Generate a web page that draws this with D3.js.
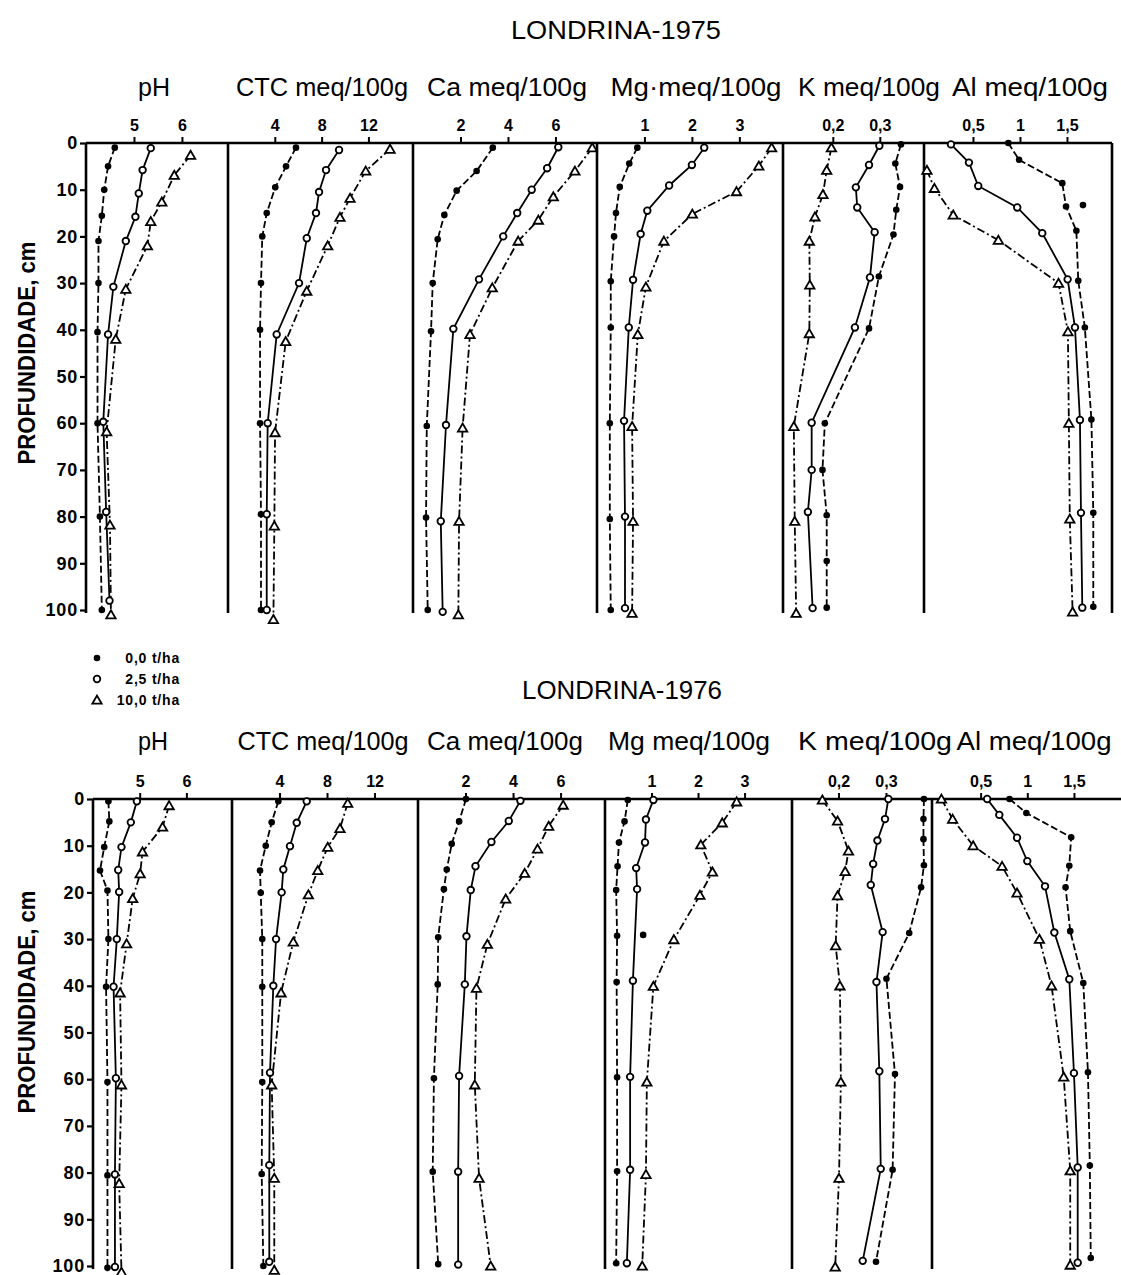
<!DOCTYPE html>
<html><head><meta charset="utf-8">
<script src="https://cdnjs.cloudflare.com/ajax/libs/d3/7.8.5/d3.min.js"></script>
<style>body{margin:0;background:#fff}svg{display:block}</style>
</head><body>
<svg id="c" width="1121" height="1275"></svg>
<script>
// ---------- DATA (depth cm, value) ----------
const depthTicks = [0,10,20,30,40,50,60,70,80,90,100];
const phTicks = [5,6];
const ctcTicks = [4,8,12];
const caTicks = [2,4,6];
const mgTicks = [1,2,3];
const kTicks = [0.2,0.3];
const alTicks = [0.5,1.0,1.5];
const headers75 = ["pH","CTC meq/100g","Ca meq/100g","Mg\u00B7meq/100g","K meq/100g","Al meq/100g"];
const headers76 = ["pH","CTC meq/100g","Ca meq/100g","Mg meq/100g","K meq/100g","Al meq/100g"];
const legendLabels = ["0,0 t/ha","2,5 t/ha","10,0 t/ha"];
const titles = ["LONDRINA-1975","LONDRINA-1976"];

// LONDRINA 1975
const pH75_0  = [[1,4.60],[5,4.46],[10,4.38],[15.6,4.33],[21,4.26],[30,4.26],[40.5,4.24],[60,4.24],[80,4.29],[100,4.33]];
const pH75_25 = [[1.1,5.35],[5.8,5.18],[10.8,5.10],[15.8,5.03],[21,4.83],[30.8,4.57],[41,4.46],[59.7,4.36],[79,4.42],[98,4.49]];
const pH75_10 = [[2.6,6.18],[6.9,5.84],[12.6,5.58],[16.8,5.35],[22,5.28],[31.3,4.83],[42,4.62],[61.8,4.43],[81.8,4.50],[101,4.52]];
const ctc75_0  = [[1,5.81],[5,4.96],[9.5,4.04],[15,3.31],[20,2.93],[30,2.82],[40,2.74],[60,2.74],[79.5,2.82],[100,2.82]];
const ctc75_25 = [[1.5,9.49],[5.8,8.38],[10.5,7.78],[15,7.52],[20.4,6.73],[30,6.07],[41,4.16],[60,3.39],[79.5,3.31],[100,3.31]];
const ctc75_10 = [[1.3,13.85],[6,11.77],[11.8,10.43],[15.9,9.57],[22,8.52],[31.7,6.73],[42.5,4.93],[62,4.02],[82,3.96],[102,3.88]];
const ca75_0  = [[1,3.36],[6,2.68],[10.2,1.84],[15.4,1.32],[20.6,1.04],[30,0.83],[40.3,0.76],[60.6,0.58],[80.2,0.55],[100,0.62]];
const ca75_25 = [[0.9,6.12],[5.4,5.65],[10,5.00],[15,4.39],[20,3.80],[29.2,2.78],[39.8,1.70],[60.4,1.39],[81,1.17],[100.4,1.25]];
const ca75_10 = [[1,7.55],[6,6.82],[11.5,5.91],[16.5,5.28],[21,4.43],[31,3.34],[41,2.40],[61,2.09],[81,1.94],[101,1.91]];
const mg75_0  = [[1,0.85],[4.4,0.68],[9.4,0.48],[15,0.40],[20,0.36],[29.6,0.29],[39.5,0.29],[60,0.27],[80.5,0.27],[100,0.29]];
const mg75_25 = [[1,2.26],[4.7,2.00],[9.1,1.52],[14.5,1.06],[19.5,0.92],[29.3,0.76],[39.5,0.67],[59.5,0.57],[80,0.59],[99.6,0.59]];
const mg75_10 = [[1,3.68],[4.9,3.41],[10.4,2.94],[15.2,2.01],[21,1.41],[30.8,1.03],[41,0.86],[60.7,0.74],[81,0.76],[100.7,0.74]];
const k75_0  = [[0.3,0.345],[4.4,0.333],[9.4,0.343],[14.3,0.335],[19.6,0.329],[28.6,0.298],[39.7,0.277],[60,0.183],[70,0.178],[79.7,0.187],[89.5,0.187],[99.5,0.187]];
const k75_25 = [[0.6,0.299],[4.7,0.277],[9.5,0.249],[13.8,0.252],[19.1,0.289],[28.8,0.279],[39.5,0.247],[59.9,0.155],[70,0.155],[79,0.147],[99.6,0.157]];
const k75_10 = [[1,0.197],[5.8,0.187],[11,0.179],[15.8,0.162],[21,0.150],[30.4,0.151],[40.8,0.150],[60.7,0.117],[81,0.119],[100.7,0.122]];
const al75_0  = [[0,0.876],[3.6,0.99],[8.6,1.45],[13.6,1.49],[18.8,1.60],[29.5,1.62],[39.5,1.69],[59.2,1.76],[79.2,1.78],[99.3,1.78]];
const al75_25 = [[0.3,0.266],[4.2,0.457],[9.2,0.556],[13.8,0.971],[19.3,1.237],[29.2,1.507],[39.5,1.585],[59.3,1.638],[79.2,1.649],[99.5,1.663]];
const al75_10 = [[5.8,0.01],[9.7,0.09],[15.4,0.29],[20.8,0.77],[30,1.41],[40.4,1.51],[60,1.52],[80.5,1.53],[100.4,1.56]];
const al75_stray = [[13.3,1.67]];

// LONDRINA 1976
const pH76_0  = [[0.5,4.33],[4.8,4.35],[10.3,4.24],[15.3,4.15],[19.6,4.31],[30,4.33],[40.2,4.28],[60.6,4.31],[80.6,4.31],[100.4,4.31]];
const pH76_25 = [[0.5,4.94],[5,4.81],[10.3,4.61],[15.2,4.54],[19.9,4.56],[30,4.51],[40.2,4.44],[59.8,4.49],[80.4,4.47],[100.2,4.47]];
const pH76_10 = [[1.4,5.63],[6,5.49],[11.3,5.06],[16,5.01],[21.3,4.85],[31,4.72],[41.5,4.58],[61.2,4.61],[82.3,4.56],[101.3,4.61]];
const ctc76_0  = [[0.5,3.90],[5,3.34],[10,2.84],[15.3,2.36],[20.1,2.42],[30,2.55],[40.2,2.55],[60.6,2.55],[80.3,2.50],[100,2.64]];
const ctc76_25 = [[0.5,6.29],[5.1,5.45],[10.1,4.88],[15.1,4.32],[20,4.18],[30,3.71],[40,3.48],[58.6,3.20],[78.4,3.14],[99.1,3.14]];
const ctc76_10 = [[0.9,9.74],[6.3,9.09],[10.3,8.06],[15.3,7.22],[20.5,6.43],[30.6,5.16],[41.5,4.13],[61.2,3.34],[81.2,3.56],[100.9,3.56]];
const ca76_0  = [[0,2.02],[4.8,1.73],[9.6,1.42],[15.1,1.21],[19.3,1.09],[29.6,0.85],[39.7,0.83],[59.8,0.67],[79.8,0.62],[99.6,0.85]];
const ca76_25 = [[0.4,4.31],[4.7,3.82],[9.2,3.09],[14.4,2.42],[19.5,2.22],[29.4,2.04],[39.7,1.97],[59.3,1.73],[79.8,1.69],[99.7,1.69]];
const ca76_10 = [[1.3,6.11],[5.8,5.50],[10.7,5.03],[15.9,4.49],[21.4,3.69],[31.1,2.92],[40.5,2.46],[61.2,2.39],[81.2,2.57],[100,3.06]];
const mg76_0  = [[0.2,0.49],[4.8,0.42],[9.3,0.30],[14.4,0.27],[19.5,0.24],[29.3,0.26],[39.2,0.25],[59.6,0.26],[79.7,0.26],[99.4,0.24]];
const mg76_25 = [[0.2,1.04],[4.4,0.88],[9.3,0.86],[14.8,0.67],[19.3,0.69],[38.9,0.60],[59.5,0.54],[79.4,0.54],[99.4,0.47]];
const mg76_10 = [[0.6,2.83],[5.1,2.52],[9.8,2.06],[15.6,2.31],[20.6,2.04],[30.1,1.48],[40.1,1.04],[60.6,0.90],[80.4,0.88],[100,0.80]];
const mg76_stray = [[29.1,0.82]];
const k76_0  = [[0,0.380],[4.3,0.379],[8.6,0.379],[14.2,0.380],[18.9,0.374],[28.7,0.349],[38.5,0.301],[58.9,0.319],[79.4,0.314],[99.1,0.279]];
const k76_25 = [[0,0.305],[4.3,0.298],[8.9,0.282],[13.9,0.273],[18.4,0.268],[28.5,0.293],[39.2,0.280],[58.3,0.286],[79.2,0.289],[98.9,0.251]];
const k76_10 = [[0.2,0.166],[4.7,0.198],[11.1,0.221],[15.5,0.214],[20.7,0.198],[31.4,0.194],[40,0.203],[60.6,0.205],[81.2,0.201],[100.2,0.193]];
const al76_0  = [[0,0.81],[3,0.99],[8.2,1.47],[14.3,1.45],[18.9,1.41],[28.3,1.46],[39.4,1.60],[58.5,1.65],[78.5,1.67],[98.3,1.68]];
const al76_25 = [[0,0.57],[3.4,0.70],[8.3,0.89],[13.3,1.00],[18.7,1.19],[28.6,1.29],[38.6,1.45],[58.7,1.50],[78.9,1.54],[99.3,1.54]];
const al76_10 = [[0,0.08],[4.3,0.20],[10,0.42],[14.4,0.73],[20.1,0.89],[30,1.13],[40,1.26],[59.5,1.39],[79.6,1.46],[99.8,1.46]];

// ---------- LAYOUT ----------
const ticksList = [phTicks, ctcTicks, caTicks, mgTicks, kTicks, alTicks];
const fig75 = {
  title: titles[0], titleX: 616, titleY: 39, titleW: 210,
  y0: 143, y1: 610, lineEnd: 1112, rightBorder: true,
  headers: headers75, headerY: 96,
  headerX: [154,322,507,696,869,1030], headerW: [32,172,160,171,142,156],
  ylabelY: 353,
  panels: [
    {x:[86,228],  d:[4.0,6.96],    s:[pH75_0,pH75_25,pH75_10]},
    {x:[228,413], d:[0,15.81],     s:[ctc75_0,ctc75_25,ctc75_10]},
    {x:[413,597], d:[0,7.75],      s:[ca75_0,ca75_25,ca75_10]},
    {x:[597,783], d:[0,3.92],      s:[mg75_0,mg75_25,mg75_10]},
    {x:[783,924], d:[0.094,0.394], s:[k75_0,k75_25,k75_10]},
    {x:[924,1112],d:[-0.021,1.979],s:[al75_0,al75_25,al75_10], stray:al75_stray}
  ]
};
const fig76 = {
  title: titles[1], titleX: 622, titleY: 699, titleW: 200,
  y0: 799, y1: 1266, lineEnd: 1121, rightBorder: false,
  headers: headers76, headerY: 750,
  headerX: [153,323,505,689,875,1034], headerW: [30,171,156,162,154,155],
  ylabelY: 1002,
  panels: [
    {x:[93,232],  d:[4.0,6.977],   s:[pH76_0,pH76_25,pH76_10]},
    {x:[232,418], d:[0,15.66],     s:[ctc76_0,ctc76_25,ctc76_10]},
    {x:[418,605], d:[0,7.87],      s:[ca76_0,ca76_25,ca76_10]},
    {x:[605,792], d:[0,4.02],      s:[mg76_0,mg76_25,mg76_10], stray:mg76_stray},
    {x:[792,932], d:[0.102,0.397], s:[k76_0,k76_25,k76_10]},
    {x:[932,1121],d:[-0.021,2.004],s:[al76_0,al76_25,al76_10]}
  ]
};

const svg = d3.select("#c");
const loc = d3.formatLocale({decimal:",", thousands:".", grouping:[3], currency:["",""]});
const f1 = loc.format(".1f");
const tickFmt = v => Number.isInteger(v) ? String(v) : f1(v);
const dashes = ["7,3", null, "8,3,2,3"];
const tri = d3.symbol().type(d3.symbolTriangle).size(38);
const FONT = "'Liberation Sans', Arial, sans-serif";

function marker(g, type, cx, cy){
  if(type===0) g.append("circle").attr("cx",cx).attr("cy",cy).attr("r",3.3).attr("fill","#000");
  else if(type===1) g.append("circle").attr("cx",cx).attr("cy",cy).attr("r",3.3).attr("fill","#fff").attr("stroke","#000").attr("stroke-width",1.8);
  else g.append("path").attr("d",tri()).attr("transform",`translate(${cx},${cy+1})`).attr("fill","#fff").attr("stroke","#000").attr("stroke-width",1.8);
}

function drawFig(F){
  const g = svg.append("g");
  const y = d3.scaleLinear().domain([0,100]).range([F.y0,F.y1]);
  g.append("text").attr("x",F.titleX).attr("y",F.titleY).attr("text-anchor","middle")
    .attr("font-family",FONT).attr("font-size",25).attr("textLength",F.titleW).attr("lengthAdjust","spacingAndGlyphs")
    .text(F.title);
  g.append("text").attr("transform",`translate(35,${F.ylabelY}) rotate(-90)`).attr("text-anchor","middle")
    .attr("font-family",FONT).attr("font-weight","bold").attr("font-size",24)
    .attr("textLength",223).attr("lengthAdjust","spacingAndGlyphs").text("PROFUNDIDADE, cm");
  const ya = g.append("g").attr("transform",`translate(${F.panels[0].x[0]},0)`)
    .call(d3.axisLeft(y).tickValues(depthTicks).tickSize(6).tickPadding(2).tickFormat(d=>String(d)));
  ya.select(".domain").remove();
  ya.selectAll("line").attr("stroke-width",2.2);
  ya.selectAll("text").attr("font-family",FONT).attr("font-weight","bold").attr("font-size",18)
    .attr("letter-spacing",0.8).attr("fill","#000");
  g.append("line").attr("x1",F.panels[0].x[0]).attr("x2",F.lineEnd).attr("y1",F.y0).attr("y2",F.y0)
    .attr("stroke","#000").attr("stroke-width",2.5);
  F.panels.forEach((P,i)=>{
    const x = d3.scaleLinear().domain(P.d).range(P.x);
    g.append("line").attr("x1",P.x[0]).attr("x2",P.x[0]).attr("y1",F.y0).attr("y2",F.y1+3)
      .attr("stroke","#000").attr("stroke-width",2.6);
    if(i===F.panels.length-1 && F.rightBorder)
      g.append("line").attr("x1",P.x[1]).attr("x2",P.x[1]).attr("y1",F.y0).attr("y2",F.y1+3)
        .attr("stroke","#000").attr("stroke-width",2.6);
    g.append("text").attr("x",F.headerX[i]).attr("y",F.headerY).attr("text-anchor","middle")
      .attr("font-family",FONT).attr("font-size",25).attr("textLength",F.headerW[i]).attr("lengthAdjust","spacingAndGlyphs")
      .text(F.headers[i]);
    const xa = g.append("g").attr("transform",`translate(0,${F.y0})`)
      .call(d3.axisTop(x).tickValues(ticksList[i]).tickSize(6).tickPadding(6).tickFormat(tickFmt));
    xa.select(".domain").remove();
    xa.selectAll("line").attr("stroke-width",2);
    xa.selectAll("text").attr("font-family",FONT).attr("font-weight","bold").attr("font-size",16).attr("fill","#000");
    P.s.forEach((S,k)=>{
      const line = d3.line().x(d=>x(d[1])).y(d=>y(d[0]));
      const p = g.append("path").datum(S).attr("d",line).attr("fill","none").attr("stroke","#000").attr("stroke-width",1.8);
      if(dashes[k]) p.attr("stroke-dasharray",dashes[k]);
    });
    P.s.forEach((S,k)=>{ S.forEach(d=>marker(g,k,x(d[1]),y(d[0]))); });
    if(P.stray) P.stray.forEach(d=>marker(g,0,x(d[1]),y(d[0])));
  });
}
drawFig(fig75);
drawFig(fig76);

const legY = [658,679,700];
legendLabels.forEach((t,k)=>{
  marker(svg,k,97,legY[k]);
  svg.append("text").attr("x",180).attr("y",legY[k]+5).attr("text-anchor","end")
    .attr("font-family",FONT).attr("font-weight","bold").attr("font-size",14).attr("letter-spacing",0.8).text(t);
});
</script>
</body></html>
